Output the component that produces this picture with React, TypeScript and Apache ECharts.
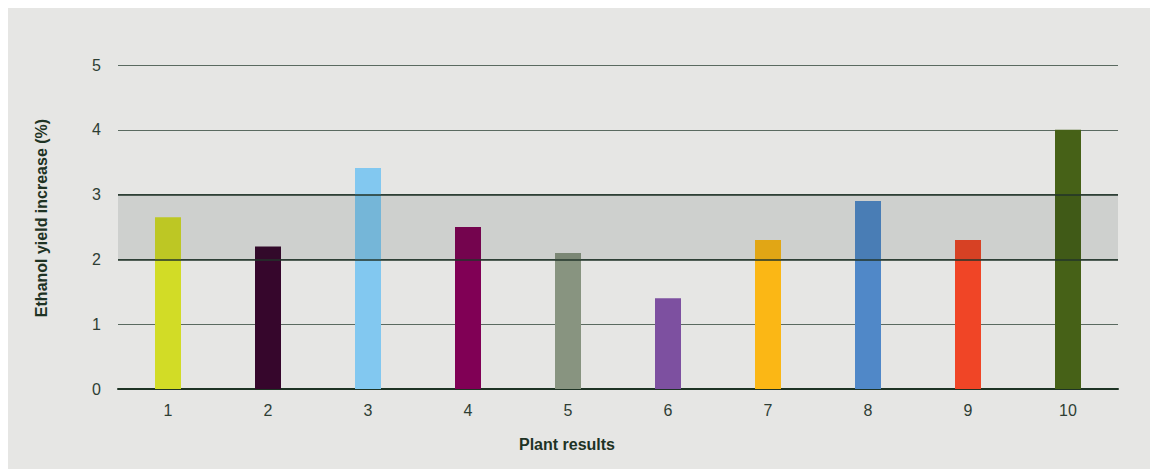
import React, { useEffect, useRef } from "react";
import * as echarts from "echarts";

const categories = ["1", "2", "3", "4", "5", "6", "7", "8", "9", "10"];
const yieldIncrease = [2.65, 2.2, 3.41, 2.5, 2.1, 1.4, 2.3, 2.9, 2.3, 4.0];
const barColors = [
  "#d2dc26",
  "#36062c",
  "#82c8f0",
  "#800055",
  "#889480",
  "#7d50a0",
  "#fbb715",
  "#5088c8",
  "#f04526",
  "#466117",
];
const bandRange = [2, 3];
const xTitle = "Plant results";
const yTitle = "Ethanol yield increase (%)";

export default function App() {
  const ref = useRef<HTMLDivElement>(null);
  useEffect(() => {
    if (!ref.current) return;
    const chart = echarts.init(ref.current, null, { renderer: "svg" });
    const font = "'Liberation Sans', Arial, sans-serif";
    chart.setOption({
      animation: false,
      backgroundColor: "#e6e6e4",
      grid: { left: 110, right: 40, top: 59, bottom: 80 },
      graphic: [
        {
          type: "text",
          x: 559,
          y: 438,
          style: {
            text: xTitle,
            fill: "#1e3324",
            font: `bold 16px ${font}`,
            align: "center",
            verticalAlign: "middle",
          },
        },
        {
          type: "text",
          x: 33,
          y: 212,
          rotation: Math.PI / 2,
          style: {
            text: yTitle,
            fill: "#1e3324",
            font: `bold 16px ${font}`,
            align: "center",
            verticalAlign: "middle",
          },
        },
      ],
      xAxis: {
        type: "category",
        data: categories,
        axisLine: { lineStyle: { color: "#1e3324", width: 2 } },
        axisTick: { show: false },
        axisLabel: { color: "#2e3e34", fontSize: 16, margin: 13, fontFamily: font },
      },
      yAxis: {
        type: "value",
        min: 0,
        max: 5,
        interval: 1,
        axisLine: { show: false },
        axisTick: { show: false },
        axisLabel: { color: "#2e3e34", fontSize: 16, margin: 17, fontFamily: font },
        splitLine: { lineStyle: { color: "#5a6a60", width: 1 } },
      },
      series: [
        {
          type: "bar",
          data: yieldIncrease.map((v, i) => ({ value: v, itemStyle: { color: barColors[i] } })),
          barWidth: 26,
          z: 2,
        },
        {
          type: "line",
          data: [],
          z: 10,
          silent: true,
          markArea: {
            silent: true,
            z: 10,
            itemStyle: { color: "rgba(20,40,30,0.11)" },
            data: [[{ yAxis: bandRange[0] }, { yAxis: bandRange[1] }]],
          },
          markLine: {
            silent: true,
            z: 11,
            symbol: "none",
            label: { show: false },
            lineStyle: { color: "#22352a", width: 1.5, type: "solid" },
            data: bandRange.map((v) => ({ yAxis: v })),
          },
        },
      ],
    });
    return () => chart.dispose();
  }, []);
  return <div ref={ref} style={{ width: 1150, height: 463, marginTop: -2 }} />;
}
